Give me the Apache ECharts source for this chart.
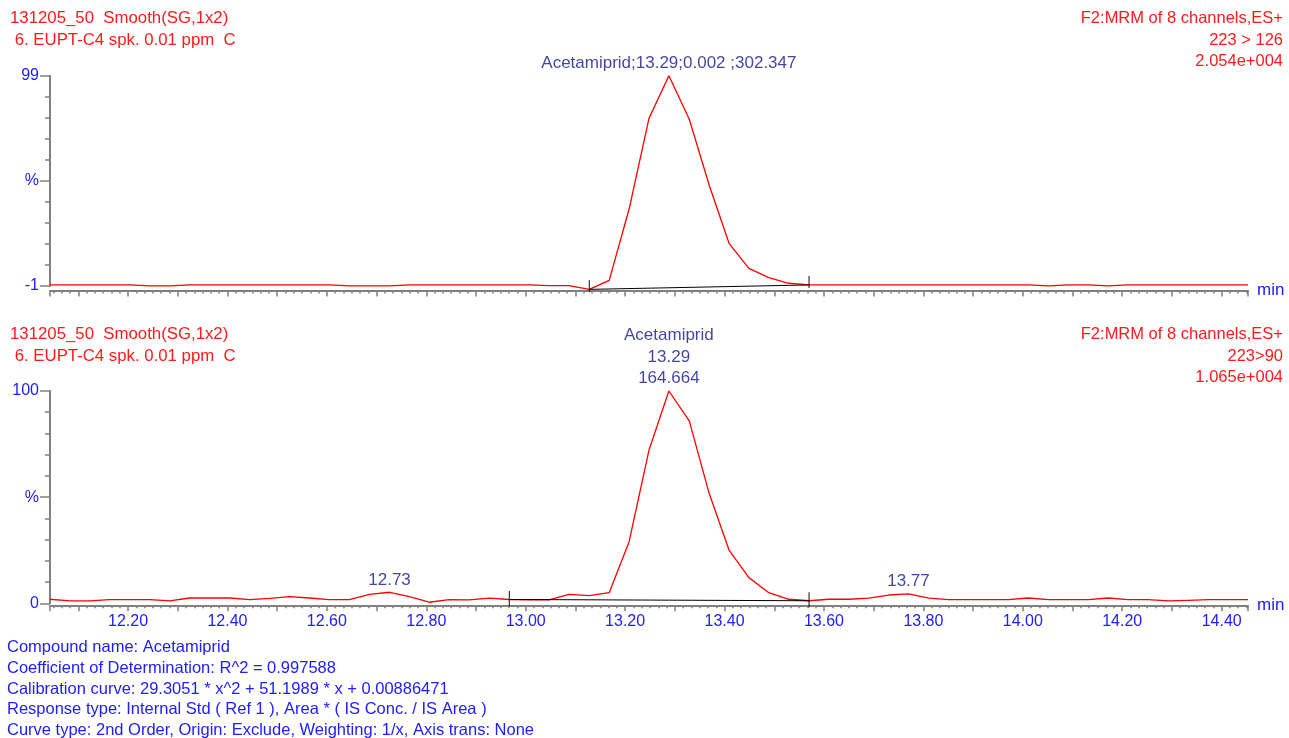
<!DOCTYPE html>
<html>
<head>
<meta charset="utf-8">
<script src="https://cdn.jsdelivr.net/npm/echarts@6/dist/echarts.min.js"></script>
<style>html,body{margin:0;padding:0;background:#fff;}#c{width:1289px;height:738px;}</style>
</head>
<body>
<div id="c"></div>
<script>
// ---- data ----
const times = [
  12.043, 12.083, 12.123, 12.163, 12.204, 12.244, 12.284, 12.324, 12.364, 12.404,
  12.445, 12.485, 12.525, 12.565, 12.605, 12.645, 12.686, 12.726, 12.766, 12.806,
  12.846, 12.886, 12.927, 12.967, 13.007, 13.047, 13.087, 13.128, 13.168, 13.208,
  13.248, 13.288, 13.329, 13.369, 13.409, 13.449, 13.489, 13.529, 13.570, 13.610,
  13.650, 13.690, 13.730, 13.770, 13.811, 13.851, 13.891, 13.931, 13.971, 14.011,
  14.052, 14.092, 14.132, 14.172, 14.212, 14.252, 14.293, 14.333, 14.373, 14.413,
  14.453
];
const trace223to126 = [
  -0.5, -0.5, -0.5, -0.5, -0.5, -0.9, -0.9, -0.5, -0.5, -0.5,
  -0.5, -0.5, -0.5, -0.5, -0.5, -0.9, -0.9, -0.9, -0.5, -0.5,
  -0.5, -0.5, -0.5, -0.5, -0.5, -0.8, -0.8, -2.6, 1.7, 35.6,
  78.7, 99, 78.3, 47.0, 19.3, 7.4, 3.0, 0.3, -0.5, -0.5,
  -0.5, -0.5, -0.5, -0.5, -0.5, -0.5, -0.5, -0.5, -0.5, -0.5,
  -0.9, -0.5, -0.5, -0.9, -0.5, -0.5, -0.5, -0.5, -0.5, -0.5,
  -0.5
];
const trace223to90 = [
  1.9, 1.1, 1.1, 1.7, 1.7, 1.7, 1.1, 2.5, 2.5, 2.5,
  1.7, 2.3, 3.1, 2.5, 1.7, 1.7, 4.2, 5.2, 3.1, 0.5,
  1.7, 1.6, 2.4, 1.8, 1.6, 1.6, 4.2, 3.6, 5.0, 29.0,
  72.2, 100, 85.9, 51.8, 25.1, 12.1, 5.0, 1.9, 1.2, 1.9,
  1.9, 2.4, 3.9, 4.4, 2.4, 1.7, 1.7, 1.7, 1.7, 2.5,
  1.7, 1.7, 1.7, 2.5, 1.7, 1.7, 1.1, 1.4, 1.7, 1.7,
  1.7
];
// integration baselines [time, value] (start, end)
const topIntegration = [[13.128, -2.6], [13.570, -0.5]];
const bottomIntegration = [[12.967, 1.8], [13.570, 1.2]];
// peak annotations [time, value, text]
const topPeakLabels = [[13.288, 99, 'Acetamiprid;13.29;0.002 ;302.347']];
const bottomPeakLabels = [
  [13.288, 100, 'Acetamiprid\n13.29\n164.664'],
  [12.726, 5.2, '12.73'],
  [13.770, 4.4, '13.77']
];
// tick labels
const xTickLabels = ['12.20','12.40','12.60','12.80','13.00','13.20','13.40','13.60','13.80','14.00','14.20','14.40'];
const yTickLabelsTop = { '-1': '-1', '49': '%', '99': '99' };
const yTickLabelsBottom = { '0': '0', '50': '%', '100': '100' };
// header / footer texts
const headerLeftLines = ['131205_50  Smooth(SG,1x2)', ' 6. EUPT-C4 spk. 0.01 ppm  C'];
const headerRightTopLines = ['F2:MRM of 8 channels,ES+', '223 > 126', '2.054e+004'];
const headerRightBottomLines = ['F2:MRM of 8 channels,ES+', '223>90', '1.065e+004'];
const footerLines = [
  'Compound name: Acetamiprid',
  'Coefficient of Determination: R^2 = 0.997588',
  'Calibration curve: 29.3051 * x^2 + 51.1989 * x + 0.00886471',
  'Response type: Internal Std ( Ref 1 ), Area * ( IS Conc. / IS Area )',
  'Curve type: 2nd Order, Origin: Exclude, Weighting: 1/x, Axis trans: None'
];

// ---- styling ----
const FONT = '"Liberation Sans", Arial, sans-serif';
const RED = '#ff1a1a', BLUE = '#2020ff', NAVY = '#14148a', GRAY = '#808080';
const X_MIN = 12.043, X_MAX = 14.453;

function pairs(ys) { return times.map((t, i) => [t, ys[i]]); }
function fmtX(v) {
  const s = v.toFixed(2);
  return (xTickLabels.includes(s) && Math.abs(v - parseFloat(s)) < 1e-6) ? s : '';
}
function fmtY(map) { return v => { const k = String(Math.round(v)); return (Math.abs(v - Math.round(v)) < 1e-6 && map[k]) ? map[k] : ''; }; }

function xAxisCfg(gridIndex, showLabels, offset) {
  return {
    type: 'value', gridIndex, min: X_MIN, max: X_MAX, splitNumber: 24, offset, position: 'bottom',
    name: 'min', nameLocation: 'end', nameGap: 9,
    nameTextStyle: { color: BLUE, fontSize: 17, fontFamily: FONT, verticalAlign: 'middle', align: 'left' },
    axisLine: { show: true, onZero: false, lineStyle: { color: GRAY, width: 2 } },
    axisTick: { show: true, length: 6, lineStyle: { color: GRAY, width: 1.5 } },
    minorTick: { show: true, splitNumber: 6, length: 3, lineStyle: { color: GRAY, width: 1.5 } },
    splitLine: { show: false }, minorSplitLine: { show: false },
    axisLabel: { show: showLabels, color: BLUE, fontSize: 16, fontFamily: FONT, margin: 8, formatter: fmtX,
                 showMinLabel: false, showMaxLabel: false, hideOverlap: false }
  };
}
function yMain(gridIndex, min, max) {
  return {
    type: 'value', gridIndex, min, max, interval: 10, position: 'left', offset: 0,
    axisLine: { show: true, onZero: false, lineStyle: { color: GRAY, width: 2 } },
    axisTick: { show: true, length: 5, lineStyle: { color: GRAY, width: 1.5 } },
    axisLabel: { show: false }, splitLine: { show: false }
  };
}
function yLabels(gridIndex, min, max, map) {
  return {
    type: 'value', gridIndex, min, max, interval: 50, position: 'left', offset: 0,
    axisLine: { show: false, onZero: false },
    axisTick: { show: true, length: 10, lineStyle: { color: GRAY, width: 1.5 } },
    axisLabel: { show: true, color: BLUE, fontSize: 16, fontFamily: FONT, margin: 11, padding: [5, 0, 0, 0],
                 formatter: fmtY(map) },
    splitLine: { show: false }
  };
}
function traceSeries(xi, yi, ys) {
  return { type: 'line', xAxisIndex: xi, yAxisIndex: yi, data: pairs(ys), showSymbol: false, symbol: 'none',
           clip: false, lineStyle: { color: '#ff0000', width: 1.3 }, z: 3 };
}
function integSeries(xi, yi, d) {
  return { type: 'line', xAxisIndex: xi, yAxisIndex: yi, data: d, showSymbol: false, symbol: 'none',
           clip: false, lineStyle: { color: '#000', width: 1 }, z: 4 };
}
function markerSeries(xi, yi, d, size, off) {
  return { type: 'scatter', xAxisIndex: xi, yAxisIndex: yi, data: d, symbol: 'rect', symbolSize: size,
           symbolOffset: off, itemStyle: { color: '#000' }, clip: false, z: 5 };
}
function labelSeries(xi, yi, d) {
  return { type: 'scatter', xAxisIndex: xi, yAxisIndex: yi, data: d, symbolSize: 1, clip: false,
           itemStyle: { color: 'rgba(0,0,0,0)' }, z: 6,
           label: { show: true, position: 'top', distance: 1, color: NAVY, fontSize: 17, fontFamily: FONT,
                    lineHeight: 21.5, align: 'center', formatter: p => p.value[2] } };
}
function textLines(lines, top, step, side, offset, color, size) {
  return lines.map((t, i) => {
    const el = { type: 'text', top: top + i * step,
      style: { text: t, fill: color, fontSize: size, fontFamily: FONT } };
    el[side] = offset;
    return el;
  });
}

const chart = echarts.init(document.getElementById('c'), null, { renderer: 'canvas' });
chart.setOption({
  animation: false,
  backgroundColor: '#fff',
  grid: [
    { left: 50, top: 75.7, width: 1198, height: 210.3, containLabel: false, outerBoundsMode: 'none' },
    { left: 50, top: 391, width: 1198, height: 212.3, containLabel: false, outerBoundsMode: 'none' }
  ],
  xAxis: [ xAxisCfg(0, false, 4.5), xAxisCfg(1, true, 2) ],
  yAxis: [
    yMain(0, -1, 99), yLabels(0, -1, 99, yTickLabelsTop),
    yMain(1, 0, 100), yLabels(1, 0, 100, yTickLabelsBottom)
  ],
  series: [
    traceSeries(0, 0, trace223to126),
    integSeries(0, 0, topIntegration),
    markerSeries(0, 0, topIntegration, [1.2, 12], [0, -3]),
    labelSeries(0, 0, topPeakLabels),
    traceSeries(1, 2, trace223to90),
    integSeries(1, 2, bottomIntegration),
    markerSeries(1, 2, bottomIntegration, [1.2, 15], [0, -1]),
    labelSeries(1, 2, bottomPeakLabels)
  ],
  graphic: [].concat(
    textLines(headerLeftLines, 10, 21.5, 'left', 10, RED, 16.8),
    textLines(headerRightTopLines, 10, 21.5, 'right', 6, RED, 16.5),
    textLines(headerLeftLines, 326, 21.5, 'left', 10, RED, 16.8),
    textLines(headerRightBottomLines, 326, 21.5, 'right', 6, RED, 16.5),
    textLines(footerLines, 639, 20.8, 'left', 7, BLUE, 16.5)
  )
});
</script>
</body>
</html>
